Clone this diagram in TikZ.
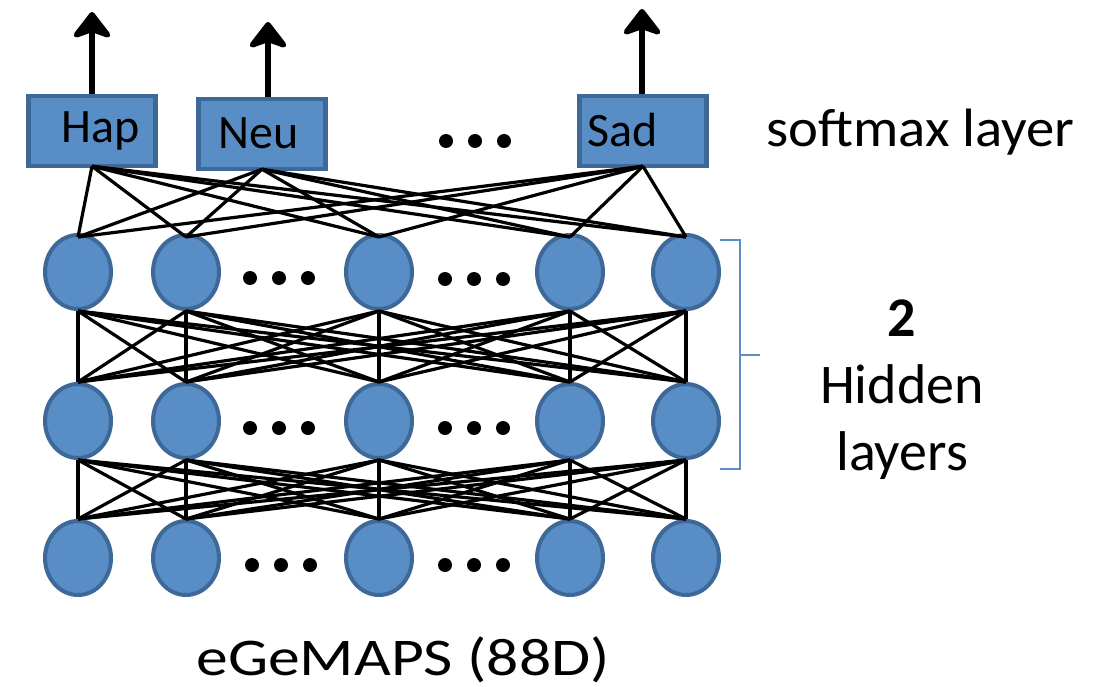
\documentclass[tikz,border=0pt]{standalone}
\usepackage{fontspec}
\setmainfont{Carlito}
\newfontfamily\widefont[FakeStretch=1.2]{Carlito}
\newfontfamily\softfont[FakeStretch=1.05]{Carlito}
\usetikzlibrary{arrows.meta,shapes.geometric}
\definecolor{nfill}{RGB}{88,141,197}
\definecolor{nedge}{RGB}{62,104,152}
\definecolor{brk}{RGB}{91,141,200}
\begin{document}
\begin{tikzpicture}[x=1pt,y=-1pt,
  neuron/.style={ellipse,draw=nedge,line width=4pt,fill=nfill,minimum width=66pt,minimum height=74pt,inner sep=0pt},
  outbox/.style={rectangle,draw=nedge,line width=4.5pt,fill=nfill,minimum width=127pt,minimum height=70pt,inner sep=0pt},
  boxtext/.style={anchor=base,inner sep=0pt,font=\fontsize{48}{50}\selectfont},
  conn/.style={black,line width=3.2pt},
  outarrow/.style={black,line width=6pt,-{Stealth[length=30pt 0,width=46pt 0,inset=8pt 0,round]}},
  dot/.style={circle,fill=black,minimum size=14pt,inner sep=0pt},
  lbl/.style={font=\fontsize{56}{67}\selectfont,align=center}]
\useasboundingbox (0,0) rectangle (1102,687);
% hidden/input neurons
\foreach \i/\x in {1/78,2/186,3/379,4/570,5/686}{
  \node[neuron] (t\i) at (\x,272) {};
  \node[neuron] (m\i) at (\x,421) {};
  \node[neuron] (b\i) at (\x,558) {};
}
% output boxes
\node[outbox] (hap) at (92,131) {};
\node[outbox] (neu) at (262,134) {};
\node[outbox] (sad) at (643,131) {};
\node[boxtext] (thap) at (101,143) {Hap};
\node[boxtext] (tneu) at (259,149) {Neu};
\node[boxtext] (tsad) at (623,147) {Sad};
% connections
\foreach \o in {hap,neu,sad}{
  \foreach \i in {1,...,5}{
    \draw[conn] ([yshift=2pt]\o.south) -- ([yshift=-4pt]t\i.north);
  }
}
\foreach \i in {1,...,5}{
  \foreach \j in {1,...,5}{
    \draw[conn] (t\i.south) -- (m\j.north);
    \draw[conn] (m\i.south) -- (b\j.north);
  }
}
% output arrows
\coordinate (ahap) at (92,12);
\coordinate (aneu) at (268,22);
\coordinate (asad) at (642,9);
\draw[outarrow] (hap.north -| ahap) -- (ahap);
\draw[outarrow] (neu.north -| aneu) -- (aneu);
\draw[outarrow] (sad.north -| asad) -- (asad);
% dots
\foreach \n/\cx/\cy in {d0/475/141,d1/279/278,d2/474/279,d3/279/428,d4/474/428,d5/281/565,d6/474/565}{
  \node[dot] (\n a) at (\cx-29,\cy) {};
  \node[dot] (\n b) at (\cx,\cy) {};
  \node[dot] (\n c) at (\cx+29,\cy) {};
}
% bracket
\coordinate (bt) at (740,240);
\coordinate (bb) at (740,469);
\coordinate (bm) at (740,355);
\draw[brk,line width=2.5pt] ([xshift=-20pt]bt) -- (bt) -- (bb) -- ([xshift=-20pt]bb);
\draw[brk,line width=2.5pt] (bm) -- ([xshift=20pt]bm);
% labels
\node[anchor=base west,inner sep=0pt,font=\softfont\fontsize{54}{60}\selectfont] (soft) at (766,147) {softmax layer};
\node[lbl,anchor=base] (hid) at (902,470) {\textbf{2}\\Hidden\\layers};
\node[anchor=base,inner sep=0pt,font=\widefont\fontsize{53}{60}\selectfont] (ege) at (403,675) {eGeMAPS (88D)};
\end{tikzpicture}
\end{document}
